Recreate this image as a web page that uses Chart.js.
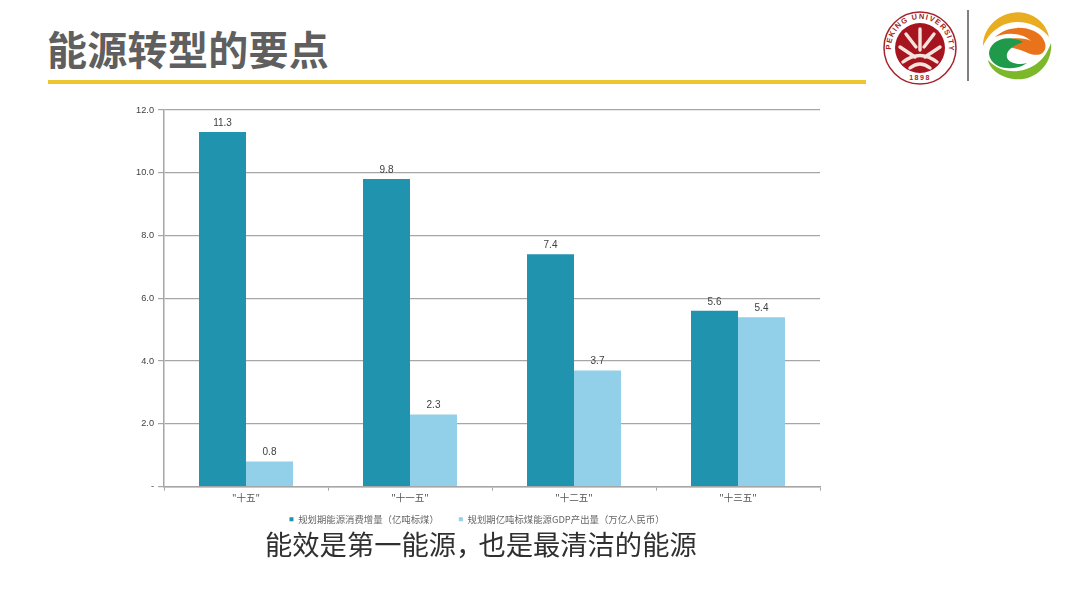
<!DOCTYPE html>
<html>
<head>
<meta charset="utf-8">
<title>能源转型的要点</title>
<script src="https://cdn.jsdelivr.net/npm/chart.js@4"></script>
<style>
  html, body { margin: 0; padding: 0; background: #fff; width: 1080px; height: 608px; overflow: hidden; }
  body { position: relative; font-family: "Noto Sans CJK SC", sans-serif; }
  #titulo { position: absolute; left: 47px; top: 21px; font-size: 40px; line-height: 54px; font-weight: 700; color: #5f5f5f; letter-spacing: 0.3px; }
  #raya { position: absolute; left: 48px; top: 80px; width: 818px; height: 4px; background: #ecc52f; }
  #sub { position: absolute; left: 265px; top: 523px; font-size: 27.3px; line-height: 40px; color: #303030; }
  #sub span { letter-spacing: -5px; }
  #caja { position: absolute; left: 134px; top: 95px; width: 696px; height: 439px; }
  #logos { position: absolute; left: 875px; top: 0; }
</style>
</head>
<body>
<div id="titulo">能源转型的要点</div>
<div id="raya"></div>
<svg id="logos" width="190" height="100" viewBox="0 0 190 100">
  <defs><path id="aro" d="M45 77A29 29 0 1 1 45.01 77"/></defs>
  <circle cx="45" cy="48" r="36" fill="#fff" stroke="#a5242c" stroke-width="1.5"/>
  <circle cx="45" cy="48" r="25" fill="#a5141f"/>
  <text font-size="7.5" font-family="Liberation Sans" fill="#a5242c" font-weight="700" letter-spacing="1.2"><textPath href="#aro" startOffset="24%">PEKING UNIVERSITY</textPath></text>
  <text x="45" y="80" text-anchor="middle" font-size="7" font-family="Liberation Sans" fill="#a5242c" font-weight="700" letter-spacing="1.5">1898</text>
  <path d="M45 29V50M31 34l10 13M59 34l-10 13M25 47l15 10M65 47l-15 10M28 62q17-13 34 0M35 68q10-8 20 0" fill="none" stroke="#f6e3dc" stroke-width="3.4" stroke-linecap="round"/>
  <line x1="93" y1="10" x2="93" y2="81" stroke="#555" stroke-width="1.5"/>
  <path d="M108 46C108 24 130 9 150 13C163 16 172 26 174 37C164 24 144 18 128 25C118 30 112 37 108 46Z" fill="#e9ad22"/>
  <path d="M120 37C134 24 156 26 166 36C172 43 172 50 166 54C158 57 150 51 142 49C134 47 127 45 124 44C134 36 150 38 156 41C146 32 130 32 120 37Z" fill="#e8731b"/>
  <path d="M176 43C178 64 160 82 138 79C124 77 114 68 113 60C124 72 140 74 154 68C166 63 172 54 176 43Z" fill="#7cb82a"/>
  <path d="M114 54C114 42 130 33 148 42C140 45 134 48 132 54C130 62 142 66 152 63C140 72 116 70 114 54Z" fill="#1f9a4a"/>
</svg>
<div id="caja"><canvas id="grafico"></canvas></div>
<div id="sub">能效是第一能源<span>，</span>也是最清洁的能源</div>
<script>
const categorias = ['"十五"', '"十一五"', '"十二五"', '"十三五"'];
const consumo = [11.3, 9.8, 7.4, 5.6];
const productividad = [0.8, 2.3, 3.7, 5.4];
const etiquetasConsumo = ['11.3', '9.8', '7.4', '5.6'];
const etiquetasProductividad = ['0.8', '2.3', '3.7', '5.4'];
const ticksY = ['-', '2.0', '4.0', '6.0', '8.0', '10.0', '12.0'];
const nombreConsumo = '规划期能源消费增量（亿吨标煤）';
const nombreProductividad = '规划期亿吨标煤能源GDP产出量（万亿人民币）';

// etiquetas encima de cada barra
const etiquetasBarras = {
  id: 'etiquetasBarras',
  afterDatasetsDraw(chart) {
    const ctx = chart.ctx;
    const textos = [etiquetasConsumo, etiquetasProductividad];
    ctx.save();
    ctx.font = '10px "Liberation Sans"';
    ctx.fillStyle = '#404040';
    ctx.textAlign = 'center';
    ctx.textBaseline = 'bottom';
    chart.data.datasets.forEach((ds, i) => {
      chart.getDatasetMeta(i).data.forEach((barra, j) => {
        ctx.fillText(textos[i][j], barra.x, barra.y - 4);
      });
    });
    ctx.restore();
  }
};

const chart = new Chart(document.getElementById('grafico'), {
  type: 'bar',
  data: {
    labels: categorias,
    datasets: [
      // los espacios separan las dos entradas de la leyenda
      { label: nombreConsumo + '　　', data: consumo, backgroundColor: '#2093ae' },
      { label: nombreProductividad, data: productividad, backgroundColor: '#92cfe8' }
    ]
  },
  options: {
    responsive: true,
    maintainAspectRatio: false,
    animation: false,
    layout: { padding: { top: 15, right: 10, left: 0, bottom: 0 } },
    datasets: { bar: { categoryPercentage: 0.573, barPercentage: 1 } },
    plugins: {
      tooltip: { enabled: false },
      legend: {
        position: 'bottom',
        labels: {
          boxWidth: 4, boxHeight: 4, padding: 6,
          color: '#666',
          font: { size: 9.4, family: '"Noto Sans CJK SC"' }
        }
      }
    },
    scales: {
      x: {
        afterFit: (s) => { s.height = 22; },
        border: { color: '#a6a6a6', width: 1.5 },
        grid: { drawOnChartArea: false, tickLength: 4, color: '#a6a6a6' },
        ticks: { color: '#555', padding: 1, font: { size: 9.5, family: '"Noto Sans CJK SC"' } }
      },
      y: {
        min: 0, max: 12,
        afterFit: (s) => { s.width = 30; },
        border: { color: '#a6a6a6', width: 1.5 },
        grid: { color: '#a6a6a6', lineWidth: 1.2, tickLength: 6 },
        ticks: {
          stepSize: 2, color: '#404040', padding: 4,
          font: { size: 9.2, family: '"Liberation Sans"' },
          callback: (v, i) => ticksY[i]
        }
      }
    }
  },
  plugins: [etiquetasBarras]
});
</script>
</body>
</html>
